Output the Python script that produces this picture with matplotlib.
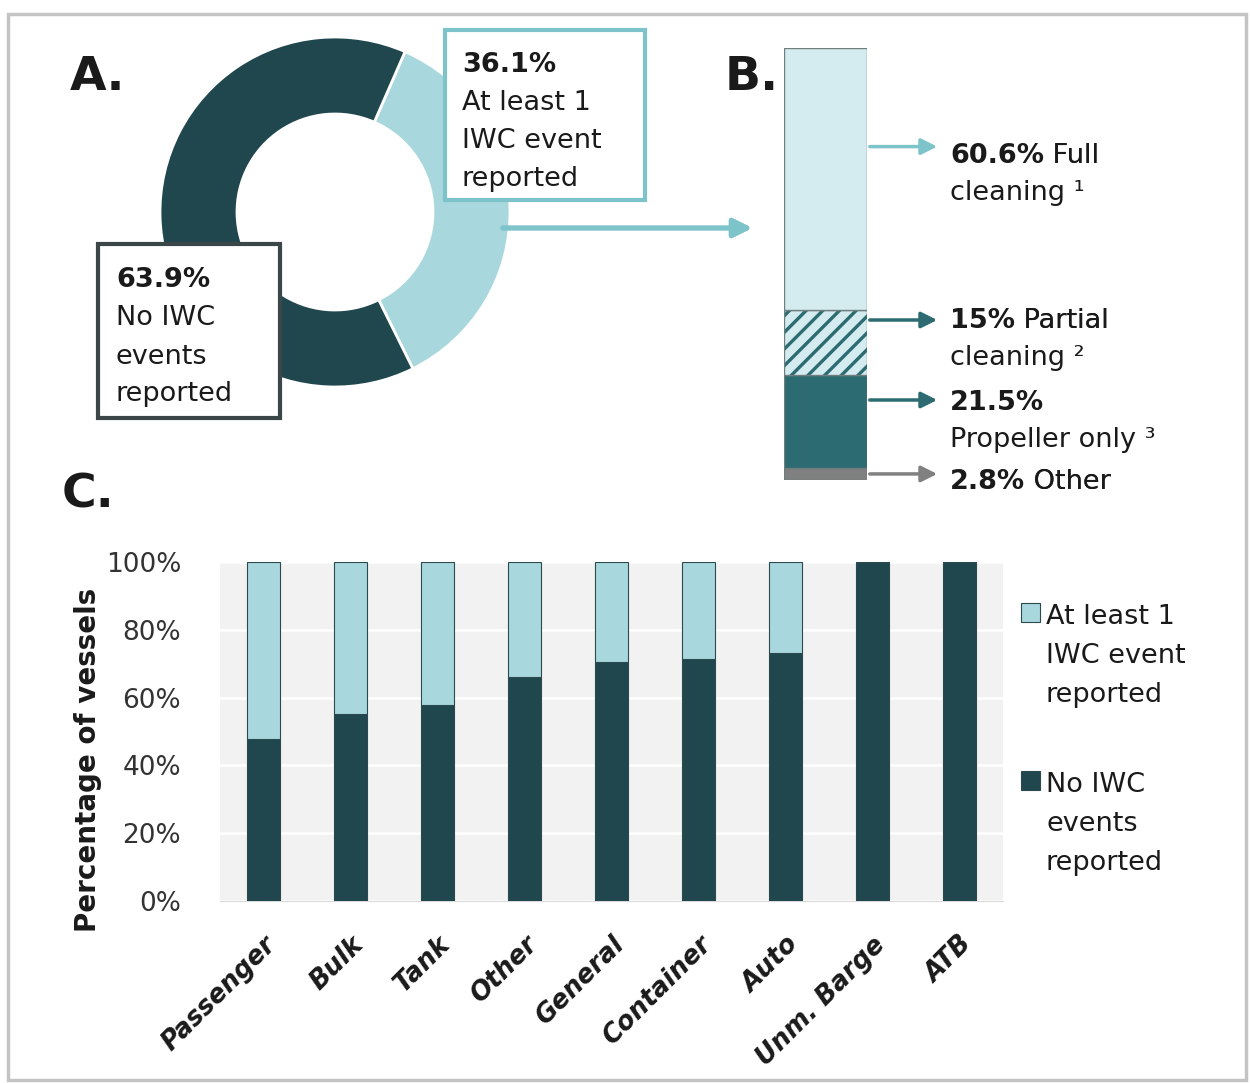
import matplotlib
matplotlib.use("Agg")
import matplotlib.pyplot as plt
import matplotlib.transforms as mtransforms
from matplotlib.patches import Rectangle

# ---- datos ----
donut_labels = ["At least 1 IWC event reported", "No IWC events reported"]
donut_values = [36.1, 63.9]

cleaning_types = ["Other", "Propeller only", "Partial cleaning", "Full cleaning"]
cleaning_values = [2.8, 21.5, 15.0, 60.6]

vessel_types = ["Passenger", "Bulk", "Tank", "Other", "General",
                "Container", "Auto", "Unm. Barge", "ATB"]
no_iwc = [47.8, 55.2, 57.9, 66.1, 70.5, 71.4, 73.2, 100, 100]
at_least_one = [100 - v for v in no_iwc]

# ---- colores ----
DARK = "#1F474D"
LIGHT = "#A8D8DD"
PALE = "#D4ECF0"
TEAL = "#2B6B71"
GRAY = "#808080"
ARROW_LIGHT = "#7CC3CA"
TXT = "#1a1a1a"

W, H = 1250, 1083
fig = plt.figure(figsize=(W / 100, H / 100), dpi=100)
plt.rcParams["hatch.linewidth"] = 2.4


def fx(x):
    return x / W


def fy(y):
    return 1 - y / H


def rect_ax(x0, y0, x1, y1):
    return [fx(x0), fy(y1), (x1 - x0) / W, (y1 - y0) / H]


def texto(x, y, s, size=19.5, bold=False, **kw):
    return fig.text(fx(x), fy(y), s, fontsize=size, color=TXT,
                    fontweight="bold" if bold else "normal",
                    va="baseline", ha="left", **kw)


def texto_mixto(x, y, negrita, normal, size=19.5):
    # parte en negrita y a continuacion texto normal
    t = texto(x, y, negrita, size=size, bold=True)
    a = plt.annotate(normal, xy=(1, 0), xycoords=t, va="bottom", ha="left",
                     fontsize=size, color=TXT, annotation_clip=False)
    fig.add_artist(a)
    return t


# marco exterior
fig.add_artist(Rectangle((fx(8), fy(1080)), 1238 / W, 1066 / H,
                         transform=fig.transFigure, fill=False,
                         edgecolor="#C4C4C4", linewidth=2.5, zorder=0))

# ---- A: dona ----
axA = fig.add_axes(rect_ax(160, 37, 510, 387))
axA.pie(donut_values, colors=[LIGHT, DARK], startangle=66.4, counterclock=False,
        wedgeprops=dict(width=0.44, edgecolor="white", linewidth=2))
axA.set_xlim(-1, 1)
axA.set_ylim(-1, 1)
axA.set_aspect("equal")
axA.axis("off")

fig.add_artist(Rectangle((fx(445), fy(200)), 200 / W, 170 / H,
                         transform=fig.transFigure, facecolor="white",
                         edgecolor=ARROW_LIGHT, linewidth=3, zorder=5))
fig.add_artist(Rectangle((fx(98), fy(418)), 182 / W, 174 / H,
                         transform=fig.transFigure, facecolor="white",
                         edgecolor="#3B4649", linewidth=3, zorder=5))

for t in [texto(462, 72, "36.1%", bold=True),
          texto(462, 110, "At least 1"),
          texto(462, 148, "IWC event"),
          texto(462, 186, "reported"),
          texto(116, 287, "63.9%", bold=True),
          texto(116, 325, "No IWC"),
          texto(116, 364, "events"),
          texto(116, 401, "reported")]:
    t.set_zorder(6)

fig.add_artist(plt.annotate("", xy=(fx(755), fy(228)), xycoords="figure fraction",
                            xytext=(fx(500), fy(228)), textcoords="figure fraction",
                            arrowprops=dict(arrowstyle="-|>", color=ARROW_LIGHT,
                                            lw=3.5, mutation_scale=28),
                            annotation_clip=False))

# ---- B: barra apilada ----
axB = fig.add_axes(rect_ax(784, 48, 867, 480))
bottom = 0
face = [GRAY, TEAL, PALE, PALE]
mids = []
for i, v in enumerate(cleaning_values):
    if cleaning_types[i] == "Partial cleaning":
        axB.bar(0, v, bottom=bottom, width=1, color=PALE, edgecolor=TEAL,
                hatch="//", linewidth=0)
        axB.bar(0, v, bottom=bottom, width=1, fill=False, edgecolor="#6f7f80",
                linewidth=1)
    else:
        axB.bar(0, v, bottom=bottom, width=1, color=face[i],
                edgecolor="#6f7f80", linewidth=1)
    mids.append(bottom + v / 2)
    bottom += v
axB.set_xlim(-0.5, 0.5)
axB.set_ylim(0, bottom)
axB.axis("off")

# flechas de B (altura en unidades de la barra)
arrow_y = [mids[0], 18.5, 37.0, 77.1]
arrow_c = [GRAY, TEAL, TEAL, ARROW_LIGHT]
blend_head = mtransforms.blended_transform_factory(fig.transFigure, axB.transData)
for yv, c in zip(arrow_y, arrow_c):
    axB.annotate("", xy=(fx(940), yv), xycoords=blend_head,
                 xytext=(0.5, yv), textcoords=axB.transData,
                 arrowprops=dict(arrowstyle="-|>", color=c, lw=2.5,
                                 mutation_scale=24),
                 annotation_clip=False)

texto_mixto(950, 163, "60.6%", " Full")
texto(950, 200, "cleaning \u00b9")
texto_mixto(950, 328, "15%", " Partial")
texto(950, 365, "cleaning \u00b2")
texto(950, 410, "21.5%", bold=True)
texto(950, 447, "Propeller only \u00b3")
texto_mixto(950, 489, "2.8%", " Other")

# etiquetas de panel
texto(70, 90, "A.", size=34, bold=True)
texto(725, 90, "B.", size=34, bold=True)
texto(62, 507, "C.", size=34, bold=True)

# ---- C: barras por tipo de buque ----
axC = fig.add_axes(rect_ax(220, 562, 1003, 901))
axC.set_facecolor("#F2F2F2")
x = range(len(vessel_types))
axC.bar(x, no_iwc, width=0.39, color=DARK, edgecolor="#2c4a4e", linewidth=0.8,
        zorder=3)
axC.bar(x, at_least_one, bottom=no_iwc, width=0.39, color=LIGHT,
        edgecolor="#2c4a4e", linewidth=0.8, zorder=3)
axC.set_xlim(-0.5, len(vessel_types) - 0.5)
axC.set_ylim(0, 100)
axC.set_yticks(range(0, 101, 20), [f"{v}%" for v in range(0, 101, 20)],
               fontsize=19, color="#333333")
axC.set_xticks(list(x), vessel_types, rotation=45, ha="right",
               rotation_mode="anchor", fontsize=18.5, fontweight="bold",
               fontstyle="italic", color=TXT)
axC.tick_params(length=0, axis="y", pad=28)
axC.tick_params(length=0, axis="x", pad=22)
axC.grid(axis="y", color="white", linewidth=1.8, zorder=0)
axC.set_axisbelow(True)
for s in ["top", "right", "left"]:
    axC.spines[s].set_visible(False)
axC.spines["bottom"].set_color("#D9D9D9")
fig.text(fx(88), fy(760), "Percentage of vessels", rotation=90, fontsize=20,
         fontweight="bold", ha="center", va="center", color=TXT)

# leyenda
fig.add_artist(Rectangle((fx(1021), fy(622)), 19 / W, 19 / H,
                         transform=fig.transFigure, facecolor=LIGHT,
                         edgecolor="#2c4a4e", linewidth=0.8))
fig.add_artist(Rectangle((fx(1021), fy(790)), 19 / W, 19 / H,
                         transform=fig.transFigure, facecolor=DARK,
                         edgecolor="#2c4a4e", linewidth=0.8))
texto(1046, 624, "At least 1")
texto(1046, 663, "IWC event")
texto(1046, 702, "reported")
texto(1046, 792, "No IWC")
texto(1046, 831, "events")
texto(1046, 870, "reported")

fig.savefig("out.png", dpi=100)
